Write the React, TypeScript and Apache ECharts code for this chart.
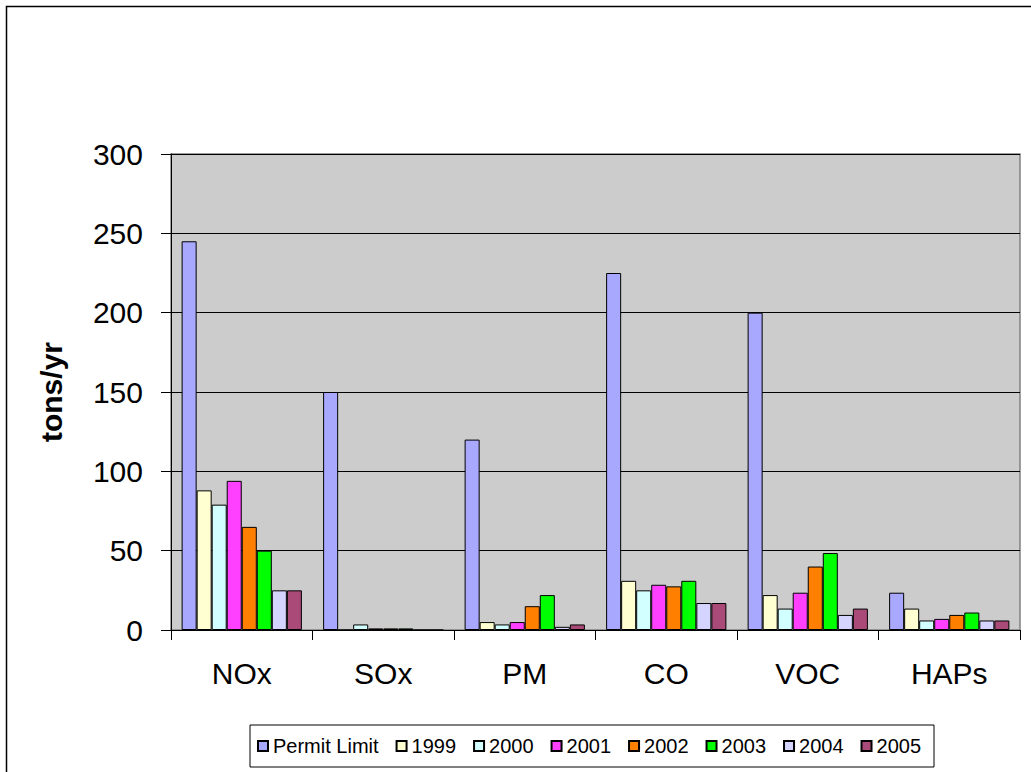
import React, { useEffect, useRef } from "react";
import * as echarts from "echarts";

const categories = ["NOx", "SOx", "PM", "CO", "VOC", "HAPs"];
const seriesNames = ["Permit Limit", "1999", "2000", "2001", "2002", "2003", "2004", "2005"];
const permitLimit = [245, 150, 120, 225, 200, 23.5];
const y1999 = [88, 0, 5, 31, 22, 13.5];
const y2000 = [79, 3.5, 3.5, 25, 13.5, 6];
const y2001 = [94, 1, 5, 28.5, 23.5, 7];
const y2002 = [65, 1, 15, 27.5, 40, 9.5];
const y2003 = [50, 1, 22, 31, 48.5, 11];
const y2004 = [25, 0, 2, 17, 9.5, 6];
const y2005 = [25, 0, 3.5, 17, 13.5, 6];
const seriesValues = [permitLimit, y1999, y2000, y2001, y2002, y2003, y2004, y2005];
const seriesColors = ["#A8A8FF", "#FFFFD2", "#D2FFFF", "#FF40FF", "#FF8000", "#00FF00", "#D4D4FF", "#AA4A78"];
const yTicks = { min: 0, max: 300, interval: 50 };
const yName = "tons/yr";

const FONT = "'Liberation Sans', Arial, sans-serif";

export default function App() {
  const ref = useRef<HTMLDivElement>(null);
  useEffect(() => {
    if (!ref.current) return;
    const chart = echarts.init(ref.current, undefined, { renderer: "svg" });
    chart.setOption({
      animation: false,
      backgroundColor: "#ffffff",
      textStyle: { fontFamily: FONT },
      graphic: [
        {
          type: "rect",
          shape: { x: 6.5, y: 6.5, width: 1100, height: 900 },
          style: { fill: "none", stroke: "#000000", lineWidth: 1.5 },
          silent: true,
          z: -1,
        },
      ],
      grid: {
        left: 171,
        right: 11,
        top: 154,
        bottom: 142,
        show: true,
        backgroundColor: "#CCCCCC",
        borderColor: "#808080",
        borderWidth: 1.5,
      },
      legend: {
        left: 250,
        top: 725,
        orient: "horizontal",
        itemWidth: 10,
        itemHeight: 10,
        itemGap: 17,
        padding: [11, 13, 11, 7],
        borderColor: "#000000",
        borderWidth: 1,
        icon: "rect",
        textStyle: { fontFamily: FONT, fontSize: 20, color: "#000000" },
        data: seriesNames,
      },
      xAxis: {
        type: "category",
        data: categories,
        boundaryGap: true,
        axisLine: { show: true, lineStyle: { color: "#000000", width: 1 } },
        axisTick: { show: true, alignWithLabel: false, length: 10, lineStyle: { color: "#000000" } },
        axisLabel: { fontFamily: FONT, fontSize: 30, color: "#000000", margin: 28 },
        splitLine: { show: false },
      },
      yAxis: {
        type: "value",
        min: yTicks.min,
        max: yTicks.max,
        interval: yTicks.interval,
        name: yName,
        nameLocation: "middle",
        nameGap: 105,
        nameRotate: 90,
        nameTextStyle: { fontFamily: FONT, fontSize: 30, fontWeight: "bold", color: "#000000" },
        axisLine: { show: true, lineStyle: { color: "#000000", width: 1 } },
        axisTick: { show: true, length: 10, lineStyle: { color: "#000000" } },
        axisLabel: { fontFamily: FONT, fontSize: 30, color: "#000000", margin: 28 },
        splitLine: { show: true, lineStyle: { color: "#000000", width: 1 } },
      },
      series: seriesNames.map((name, i) => ({
        name,
        type: "bar",
        data: seriesValues[i],
        barGap: "0%",
        barCategoryGap: "15%",
        itemStyle: { color: seriesColors[i], borderColor: "#000000", borderWidth: 1 },
      })),
    });
    return () => chart.dispose();
  }, []);
  return (
    <div
      ref={ref}
      style={{ position: "absolute", left: 0, top: 0, width: 1031, height: 772, background: "#ffffff" }}
    />
  );
}
